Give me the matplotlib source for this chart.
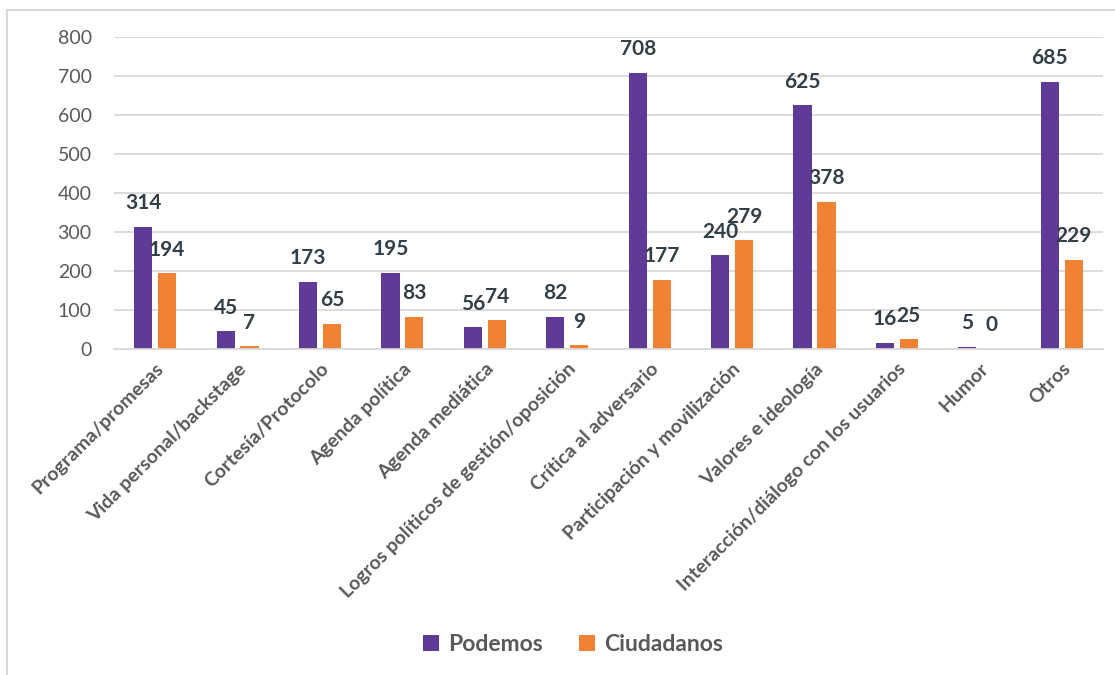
import numpy as np
import matplotlib.pyplot as plt
from matplotlib.lines import Line2D

plt.rcParams['font.family'] = ['Lato', 'DejaVu Sans']

# Datos
categorias = ['Programa/promesas', 'Vida personal/backstage', 'Cortesía/Protocolo',
              'Agenda política', 'Agenda mediática',
              'Logros políticos de gestión/oposición', 'Crítica al adversario',
              'Participación y movilización', 'Valores e ideología',
              'Interacción/diálogo con los usuarios', 'Humor', 'Otros']
podemos = [314, 45, 173, 195, 56, 82, 708, 240, 625, 16, 5, 685]
ciudadanos = [194, 7, 65, 83, 74, 9, 177, 279, 378, 25, 0, 229]

color_pod = '#5f3a96'
color_cs = '#f08233'
gris = '#595959'
oscuro = '#333f48'

fig = plt.figure(figsize=(11.15, 6.75), dpi=100)
ax = fig.add_axes([0.1022, 0.483, 0.887, 0.462])

x = np.arange(len(categorias))
w = 0.22
off = 0.145
b1 = ax.bar(x - off, podemos, w, color=color_pod, label='Podemos')
b2 = ax.bar(x + off, ciudadanos, w, color=color_cs, label='Ciudadanos')

for bars, vals in [(b1, podemos), (b2, ciudadanos)]:
    for b, v in zip(bars, vals):
        ax.annotate(str(v), (b.get_x() + b.get_width() / 2, v),
                    xytext=(0, 17), textcoords='offset points',
                    ha='center', va='center', fontsize=15,
                    fontweight='bold', color=oscuro)

ax.set_xlim(-0.5, len(categorias) - 0.5)
ax.set_ylim(0, 800)
ax.set_yticks(range(0, 801, 100))
ax.yaxis.grid(True, color='#d9d9d9', linewidth=1.3)
ax.set_axisbelow(True)
for s in ['top', 'right', 'left']:
    ax.spines[s].set_visible(False)
ax.spines['bottom'].set_color('#d9d9d9')
ax.spines['bottom'].set_linewidth(1.3)
ax.tick_params(axis='both', length=0)
ax.tick_params(axis='y', labelsize=14, labelcolor=gris, pad=16)
ax.set_xticks(x)
ax.set_xticklabels(categorias, rotation=45, ha='right', rotation_mode='anchor',
                   fontsize=14, fontweight='bold', color=gris)
ax.tick_params(axis='x', pad=8)

leg = fig.legend(handles=[b1, b2], loc='center', bbox_to_anchor=(0.514, 0.045),
                 ncol=2, frameon=False, fontsize=16.5, handlelength=0.7,
                 handleheight=0.7, columnspacing=1.6, handletextpad=0.4)
for t in leg.get_texts():
    t.set_color(gris)
    t.set_fontweight('bold')

# borde del gráfico
fig.add_artist(Line2D([0.0065, 1.0], [0.985, 0.985], color='#d9d9d9', lw=1.5))
fig.add_artist(Line2D([0.0065, 0.0065], [0.0, 0.985], color='#d9d9d9', lw=1.5))

fig.savefig('out.png', dpi=100)
